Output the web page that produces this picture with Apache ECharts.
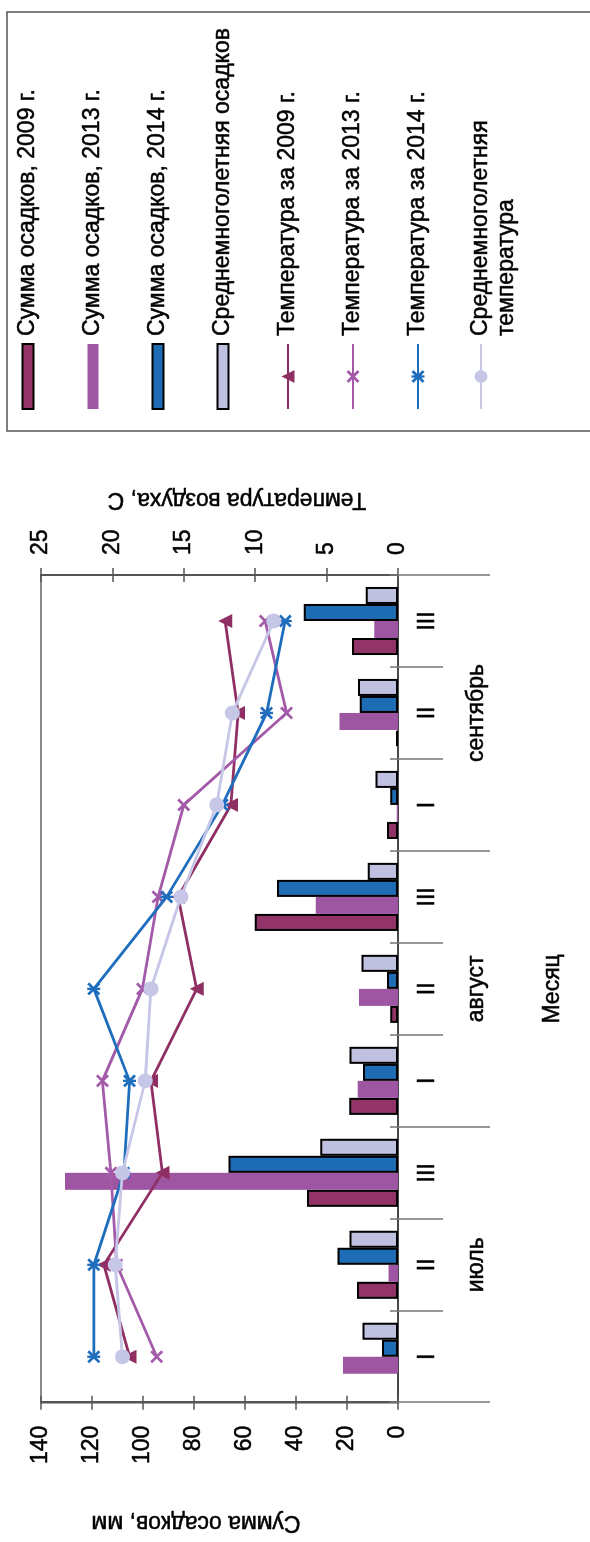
<!DOCTYPE html>
<html>
<head>
<meta charset="utf-8">
<script src="https://cdn.jsdelivr.net/npm/echarts@6/dist/echarts.min.js"></script>
<style>
  html, body { margin: 0; padding: 0; background: #ffffff; overflow: hidden; width: 590px; height: 1542px; }
  #wrap { position: absolute; left: 0; top: 0; width: 1542px; height: 590px;
          transform-origin: 0 0; transform: translate(0, 1542px) rotate(-90deg); }
</style>
</head>
<body>
<div id="wrap"></div>
<script>
// ---- data ----
const months = ['июль', 'август', 'сентябрь'];
const decades = ['I', 'II', 'III'];
const precipTicks = [0, 20, 40, 60, 80, 100, 120, 140];
const tempTicks = [0, 5, 10, 15, 20, 25];

const precip2009 = [null, 16.1, 35.7, 19.1, 3.0, 56.2, 4.3, 0.7, 18.0];
const precip2013 = [21.6, 3.7, 130.6, 15.8, 15.3, 32.3, 0.5, 22.9, 9.3];
const precip2014 = [6.3, 23.7, 66.5, 13.7, 4.3, 47.5, 3.0, 15.0, 37.0];
const precipAvg  = [13.9, 19.0, 30.5, 19.0, 14.3, 11.9, 8.8, 15.7, 12.6];

const temp2009 = [18.8, 20.6, 16.5, 17.3, 14.1, 15.4, 11.7, 11.2, 12.1];
const temp2013 = [16.9, 19.7, 20.1, 20.7, 17.9, 16.8, 15.0, 7.8, 9.3];
const temp2014 = [21.3, 21.3, 19.2, 18.8, 21.3, 16.2, 12.3, 9.2, 7.9];
const tempAvg  = [19.3, 19.8, 19.3, 17.7, 17.3, 15.2, 12.7, 11.6, 8.7];

const names = [
  'Сумма осадков, 2009 г.', 'Сумма осадков, 2013 г.', 'Сумма осадков, 2014 г.',
  'Среднемноголетняя осадков',
  'Температура за 2009 г.', 'Температура за 2013 г.', 'Температура за 2014 г.',
  'Среднемноголетняя\nтемпература'
];

// ---- build ----
const catKeys = [];
months.forEach(m => decades.forEach(d => catKeys.push(m + ' ' + d)));

const FONT = "'Liberation Sans', Arial, sans-serif";
const C09 = '#933468', C13 = '#9E56A3', C14 = '#1E6CB4', CAV = '#C0C0E0';
const L09 = '#8F2F63', L13 = '#A35BA9', L14 = '#1F6EBE', LAV = '#C6C6E6';
const AX = '#555555', TK = '#777777';
const TXT = { fontFamily: FONT, fontSize: 23, color: '#000', textBorderColor: '#000', textBorderWidth: 0.5 };

const xPath = 'path://M0,1.5 L1.5,0 L5,3.5 L8.5,0 L10,1.5 L6.5,5 L10,8.5 L8.5,10 L5,6.5 L1.5,10 L0,8.5 L3.5,5 Z';
const starPath = 'path://M0,1.5 L1.5,0 L5,3.5 L8.5,0 L10,1.5 L6.5,5 L10,8.5 L8.5,10 L5,6.5 L1.5,10 L0,8.5 L3.5,5 Z M4.1,0 L5.9,0 L5.9,10 L4.1,10 Z';
const barIcon = 'path://M0,0 L65,0 L65,11 L0,11 Z';

const chart = echarts.init(document.getElementById('wrap'), null, { renderer: 'canvas', width: 1542, height: 590 });

function barSeries(name, data, color, border) {
  return {
    name: name, type: 'bar', xAxisIndex: 0, yAxisIndex: 0, data: data,
    barGap: '0%', barCategoryGap: '26%',
    itemStyle: { color: color, borderColor: border ? '#000' : color, borderWidth: border ? 2 : 0 }
  };
}
function lineSeries(name, data, color, symbol, size) {
  return {
    name: name, type: 'line', xAxisIndex: 0, yAxisIndex: 1, data: data,
    symbol: symbol, symbolSize: size, showSymbol: true,
    lineStyle: { color: color, width: 2.8 },
    itemStyle: { color: color, borderWidth: 0 },
    z: 5
  };
}

const legendBase = {
  orient: 'vertical', left: 1132, padding: 0,
  itemWidth: 65, itemHeight: 16, itemGap: 39, symbolKeepAspect: true
};

const option = {
  backgroundColor: '#ffffff',
  animation: false,
  textStyle: { fontFamily: FONT },
  grid: { left: 132, right: 575, top: 41, bottom: 192, show: true, borderColor: '#8a8a8a', borderWidth: 2 },
  legend: [
    Object.assign({}, legendBase, {
      top: 15,
      textStyle: Object.assign({}, TXT, { lineHeight: 26, padding: [0, 0, 0, 3] }),
      data: [
        { name: names[0], icon: barIcon }, { name: names[1], icon: barIcon },
        { name: names[2], icon: barIcon }, { name: names[3], icon: barIcon },
        { name: names[4] }, { name: names[5] }, { name: names[6] }
      ]
    }),
    Object.assign({}, legendBase, {
      top: 442,
      formatter: (n) => '{e| }\n' + n.split('\n').map(s => '{t|' + s + '}').join('\n'),
      textStyle: Object.assign({}, TXT, {
        lineHeight: 26, padding: [0, 0, 0, 3],
        rich: {
          e: { fontSize: 23, lineHeight: 26, fontFamily: FONT },
          t: Object.assign({}, TXT, { lineHeight: 26 })
        }
      }),
      data: [{ name: names[7] }]
    })
  ],
  graphic: [{
    type: 'rect', shape: { x: 1111, y: 7, width: 419, height: 620 },
    style: { fill: 'none', stroke: '#555', lineWidth: 1.5 }, silent: true
  }],
  xAxis: [
    {
      type: 'category', position: 'bottom', data: catKeys, boundaryGap: true,
      axisLine: { show: true, onZero: false, lineStyle: { color: '#333', width: 1.5 } },
      axisTick: { show: true, length: 45, lineStyle: { color: TK, width: 1.5 } },
      axisLabel: Object.assign({ margin: 18, formatter: (v, i) => decades[i % decades.length] }, TXT),
      splitLine: { show: false }
    },
    {
      type: 'category', position: 'bottom', data: months, boundaryGap: true,
      axisLine: { show: false, onZero: false },
      axisTick: { show: true, length: 92, lineStyle: { color: TK, width: 1.5 } },
      axisLabel: Object.assign({ margin: 67 }, TXT),
      name: 'Месяц', nameLocation: 'middle', nameGap: 143,
      nameTextStyle: Object.assign({}, TXT),
      splitLine: { show: false }
    },
    {
      type: 'category', position: 'bottom', data: catKeys, boundaryGap: true,
      axisLine: { show: false, onZero: false },
      axisTick: { show: true, inside: true, length: 8, lineStyle: { color: TK, width: 1.5 } },
      axisLabel: { show: false }, splitLine: { show: false }
    }
  ],
  yAxis: [
    {
      type: 'value', position: 'left', min: precipTicks[0], max: precipTicks[precipTicks.length - 1], interval: 20,
      axisLine: { show: true, lineStyle: { color: AX, width: 2 } },
      axisTick: { show: true, length: 7, lineStyle: { color: AX, width: 1.5 } },
      axisLabel: Object.assign({ margin: 23 }, TXT),
      splitLine: { show: false },
      name: 'Сумма осадков, мм', nameLocation: 'middle', nameRotate: 90, nameGap: 108,
      nameTextStyle: Object.assign({}, TXT, { padding: [0, 0, 0, 47] })
    },
    {
      type: 'value', position: 'right', min: tempTicks[0], max: tempTicks[tempTicks.length - 1], interval: 5,
      axisLine: { show: true, lineStyle: { color: AX, width: 2 } },
      axisTick: { show: true, length: 7, lineStyle: { color: AX, width: 1.5 } },
      axisLabel: Object.assign({ margin: 20 }, TXT),
      splitLine: { show: false },
      name: 'Температура воздуха, С', nameLocation: 'middle', nameRotate: 90, nameGap: 64,
      nameTextStyle: Object.assign({}, TXT, { padding: [0, 35, 0, 0] })
    },
    {
      type: 'value', position: 'left', min: 0, max: 140, interval: 20,
      axisLine: { show: false }, axisLabel: { show: false }, splitLine: { show: false },
      axisTick: { show: true, inside: true, length: 7, lineStyle: { color: AX, width: 1.5 } }
    },
    {
      type: 'value', position: 'right', min: 0, max: 25, interval: 5,
      axisLine: { show: false }, axisLabel: { show: false }, splitLine: { show: false },
      axisTick: { show: true, inside: true, length: 7, lineStyle: { color: AX, width: 1.5 } }
    }
  ],
  series: [
    barSeries(names[0], precip2009, C09, true),
    barSeries(names[1], precip2013, C13, false),
    barSeries(names[2], precip2014, C14, true),
    barSeries(names[3], precipAvg, CAV, true),
    lineSeries(names[4], temp2009, L09, 'triangle', 14),
    lineSeries(names[5], temp2013, L13, xPath, 13),
    lineSeries(names[6], temp2014, L14, starPath, 13),
    lineSeries(names[7], tempAvg, LAV, 'circle', 15)
  ]
};
chart.setOption(option);
</script>
</body>
</html>
